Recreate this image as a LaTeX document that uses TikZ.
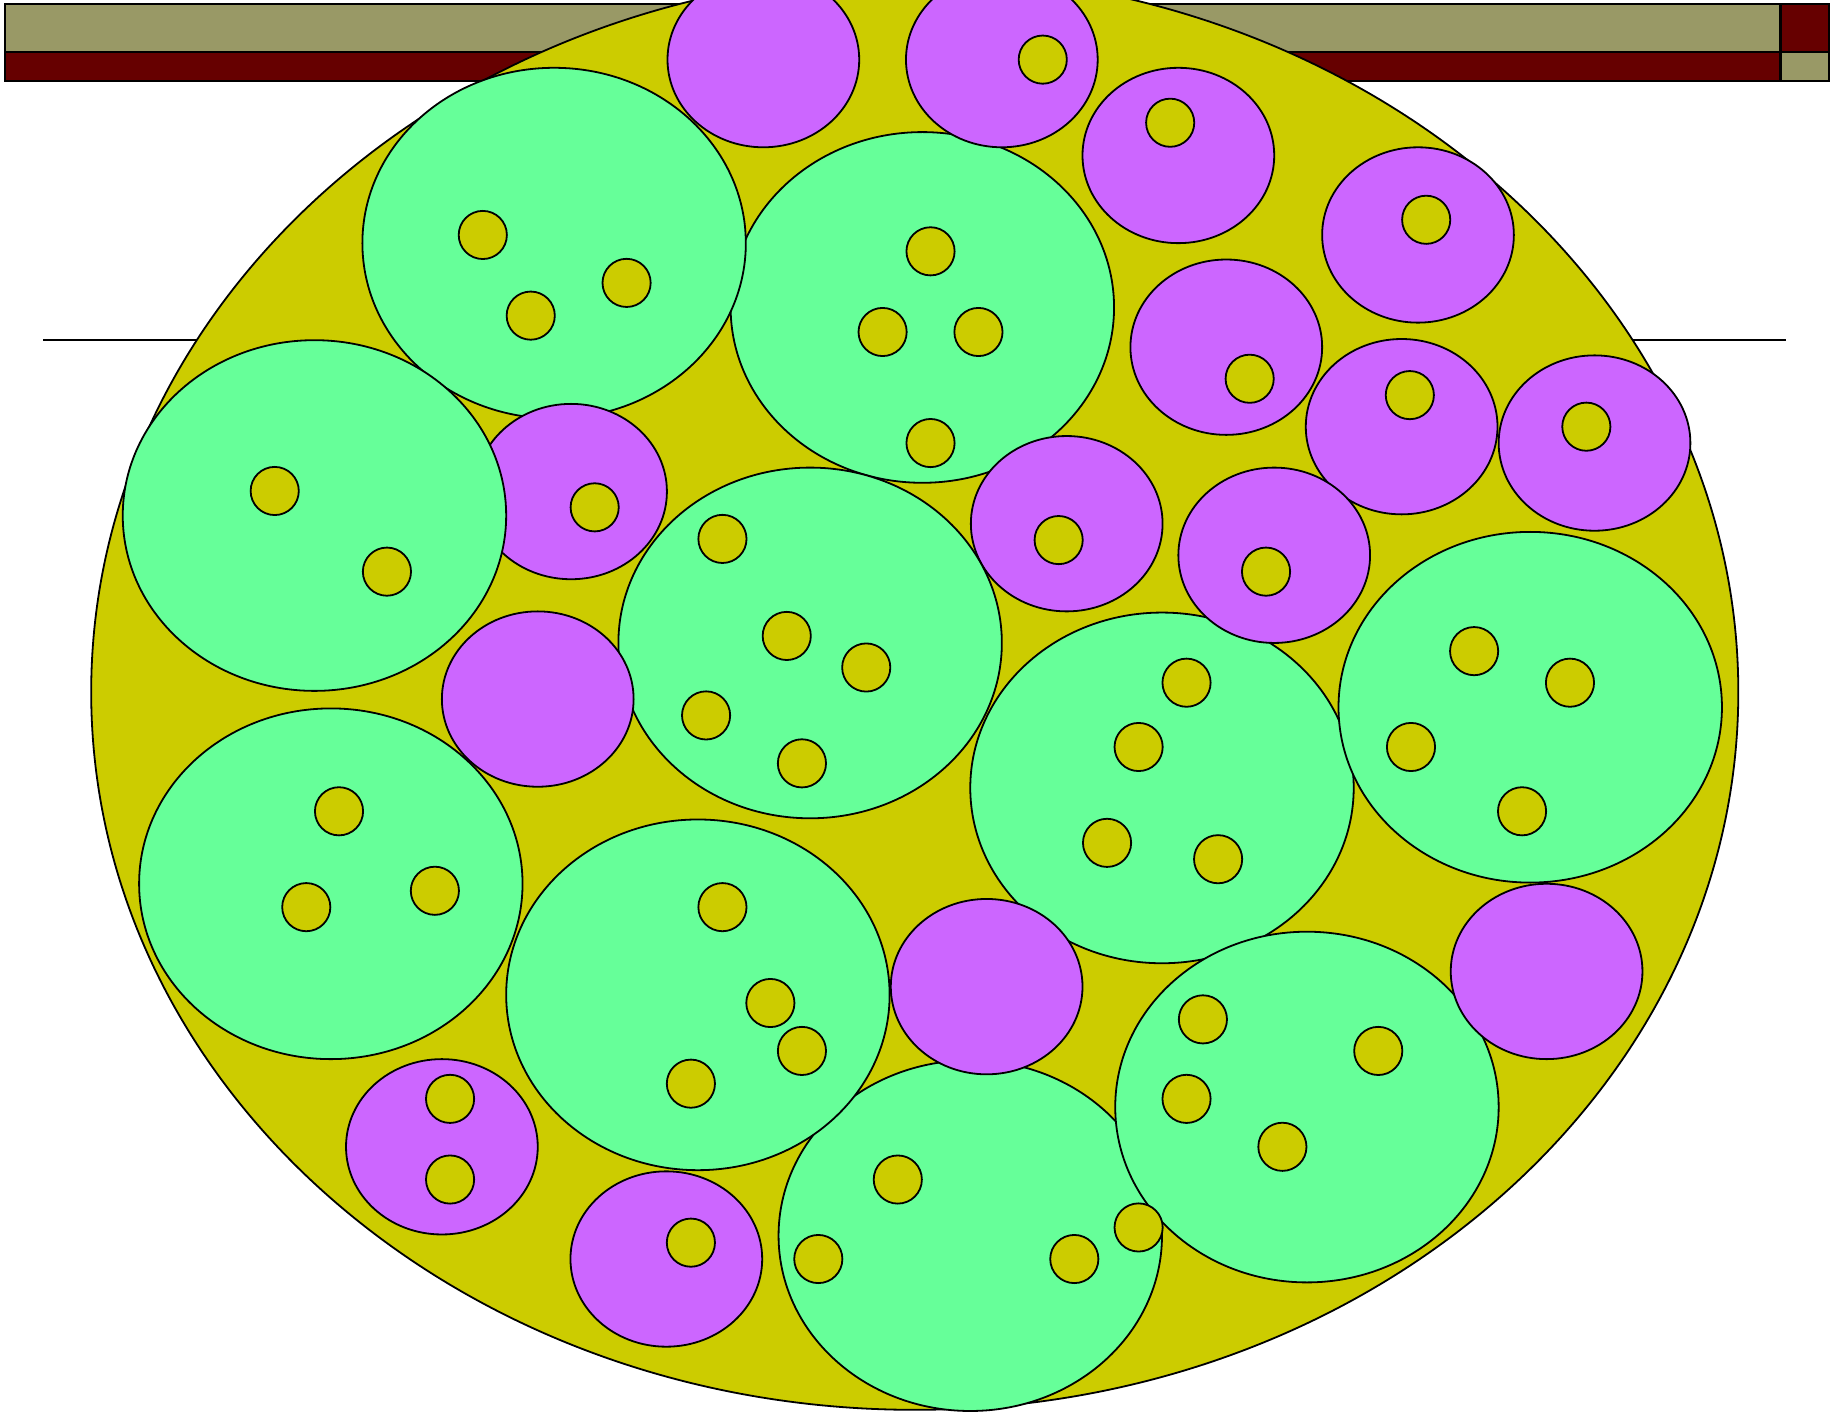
\documentclass[tikz,border=0pt]{standalone}
\usetikzlibrary{calc}
\definecolor{olivebar}{HTML}{999966}
\definecolor{redbar}{HTML}{660000}
\definecolor{cellyel}{HTML}{CCCC00}
\definecolor{cellgrn}{HTML}{66FF99}
\definecolor{cellpur}{HTML}{CC66FF}
\tikzset{
  barbox/.style={draw=black, line width=1.1pt},
  bigcell/.style={draw=black, fill=cellyel, line width=0.9pt},
  grncell/.style={draw=black, fill=cellgrn, line width=0.9pt},
  purcell/.style={draw=black, fill=cellpur, line width=0.9pt},
  dotcell/.style={draw=black, fill=cellyel, line width=0.9pt},
  rule/.style={draw=black, line width=0.9pt}
}
\newcommand{\grn}[2]{\draw[grncell] (#1,#2) ellipse [x radius=164, y radius=150];}
\newcommand{\pur}[2]{\draw[purcell] (#1,#2) ellipse [x radius=82, y radius=75];}
\newcommand{\dt}[2]{\draw[dotcell] (#1,#2) circle [radius=20.6];}
\begin{document}
\begin{tikzpicture}[x=0.5845pt, y=-0.5845pt]
\clip (0,0) rectangle (1568,1208);
\fill[white] (0,0) rectangle (1568,1208);
% horizontal rule
\coordinate (rl) at (37,291);
\coordinate (rr) at (1528,291);
\draw[rule] (rl) -- (rr);
% bars
\draw[barbox, fill=olivebar] (4.3,3.4) rectangle (1523,44.2);
\draw[barbox, fill=redbar] (4.3,44.2) rectangle (1523,69.3);
\draw[barbox, fill=redbar] (1523,3.4) rectangle (1564.5,44.2);
\draw[barbox, fill=olivebar] (1523,44.2) rectangle (1564.5,69.3);
% big cell
\draw[bigcell] (782.5,592) ellipse [x radius=704.5, y radius=614];
% inner cells
\grn{789}{263}
\pur{653}{51}
\pur{857}{51}
\pur{912.5}{448}
\grn{474}{208}
\pur{488.5}{420.5}
\grn{269}{441}
\grn{693}{550}
\pur{460}{598}
\grn{994}{674}
\grn{1309}{605}
\pur{1008}{133}
\pur{1213}{201}
\pur{1049}{297}
\pur{1199}{365}
\pur{1364}{379}
\pur{1090}{475}
\grn{830}{1057}
\grn{597}{851}
\grn{1118}{947}
\pur{844}{844}
\pur{1323}{831}
\grn{283}{756}
\pur{378}{981}
\pur{570}{1077}
% dots
\dt{413}{201}\dt{454}{270}\dt{536}{242}
\dt{796}{215}\dt{755}{284}\dt{837}{284}\dt{796}{379}
\dt{235}{420}\dt{331}{489}
\dt{618}{461}\dt{673}{544}\dt{741}{571}\dt{604}{612}\dt{686}{653}
\dt{1015}{584}\dt{974}{639}\dt{947}{721}\dt{1042}{735}
\dt{1261}{557}\dt{1343}{584}\dt{1207}{639}\dt{1302}{694}
\dt{290}{694}\dt{372}{762}\dt{262}{776}
\dt{618}{776}\dt{659}{858}\dt{686}{899}\dt{591}{927}
\dt{768}{1009}\dt{700}{1077}\dt{919}{1077}\dt{974}{1050}
\dt{1029}{872}\dt{1179}{899}\dt{1015}{940}\dt{1097}{981}
\dt{892}{51}
\dt{1001}{105}
\dt{1220}{188}
\dt{1069}{324}
\dt{1206}{338}
\dt{1357}{365}
\dt{508.7}{434}
\dt{905.6}{462}
\dt{1083}{489}
\dt{385}{940}\dt{385}{1009}
\dt{591}{1063}
\end{tikzpicture}
\end{document}
